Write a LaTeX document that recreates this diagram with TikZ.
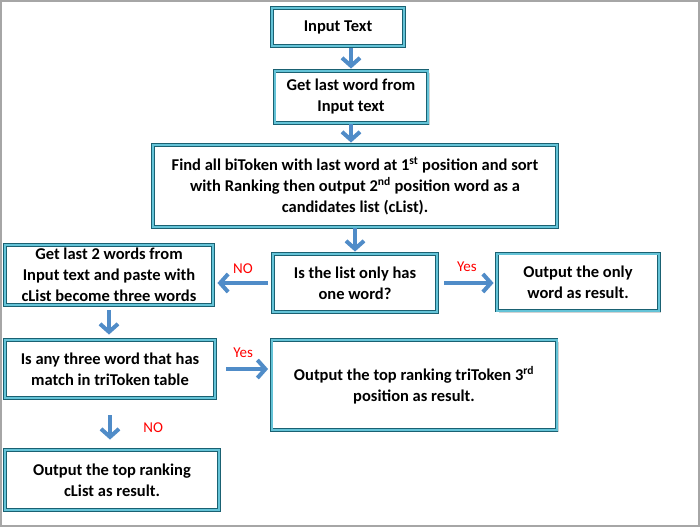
\documentclass[tikz,border=0pt]{standalone}
\usepackage{fontspec}
\setmainfont{Carlito}
\usetikzlibrary{arrows.meta,shadows}

\definecolor{boxline}{RGB}{40,150,175}
\definecolor{boxfill}{RGB}{100,195,215}
\definecolor{flowblue}{RGB}{80,140,200}

\tikzset{
  box/.style={draw=boxline!65!black,double=boxfill,double distance=2pt,line width=0.9pt,
    fill=white,align=center,inner sep=1pt,
    font=\bfseries\fontsize{16.5}{21}\selectfont,
    drop shadow={opacity=0.35,shadow xshift=2pt,shadow yshift=-2pt}},
  flow/.style={flowblue,line width=4pt,-{Straight Barb[length=8pt,width=18pt]}},
  lab/.style={red,font=\fontsize{15}{17}\selectfont}
}

\begin{document}
\begin{tikzpicture}[x=1pt,y=-1pt]
  \useasboundingbox (0,0) rectangle (700,527);
  \fill[white] (0,0) rectangle (700,527);
  \draw[gray!70,line width=1.2pt] (1,1) rectangle (699,526);

  % boxes
  \node[box,minimum width=132,minimum height=38] (input) at (338,27) {Input Text};
  \node[box,minimum width=153,minimum height=52] (getlast) at (351,97) {Get last word from\\Input text};
  \node[box,minimum width=404,minimum height=82] (find) at (355,186)
    {Find all biToken with last word at 1\textsuperscript{st} position and sort\\
     with Ranking then output 2\textsuperscript{nd} position word as a\\candidates list (cList).};
  \node[box,minimum width=164,minimum height=58] (islist) at (355,283) {Is the list only has\\one word?};
  \node[box,minimum width=162,minimum height=57] (onlyword) at (578,282) {Output the only\\word as result.};
  \node[box,minimum width=208,minimum height=60] (getlast2) at (109,275)
    {Get last 2 words from\\Input text and paste with\\cList become three words};
  \node[box,minimum width=210,minimum height=58] (isany) at (110,369)
    {Is any three word that has\\match in triToken table};
  \node[box,minimum width=285,minimum height=90] (tri) at (414,385)
    {Output the top ranking triToken 3\textsuperscript{rd}\\position as result.};
  \node[box,minimum width=214,minimum height=60] (clist) at (112,480)
    {Output the top ranking\\cList as result.};

  % connectors
  \draw[flow,shorten <=2pt,shorten >=2pt] (getlast.north |- input.south) -- (getlast.north);
  \draw[flow,shorten <=1pt,shorten >=2pt] (getlast.south) -- (getlast.south |- find.north);
  \draw[flow,shorten <=1pt,shorten >=2pt] (find.south) -- (islist.north);
  \draw[flow,shorten <=5pt,shorten >=4pt] (islist.west) -- (islist.west -| getlast2.east)
    node[lab,midway,above=4pt] {NO};
  \draw[flow,shorten <=7pt,shorten >=3pt] (islist.east) -- (islist.east -| onlyword.west)
    node[lab,midway,above=6pt] {Yes};
  \draw[flow,shorten <=5pt,shorten >=5pt] (getlast2.south) -- (getlast2.south |- isany.north);
  \draw[flow,shorten <=11pt,shorten >=3pt] (isany.east) -- (isany.east -| tri.west)
    node[lab,midway,above=6pt] {Yes};
  \draw[flow,shorten <=17pt,shorten >=10pt] (isany.south) -- (isany.south |- clist.north)
    node[lab,midway,right=28pt,yshift=-4pt] {NO};
\end{tikzpicture}
\end{document}
